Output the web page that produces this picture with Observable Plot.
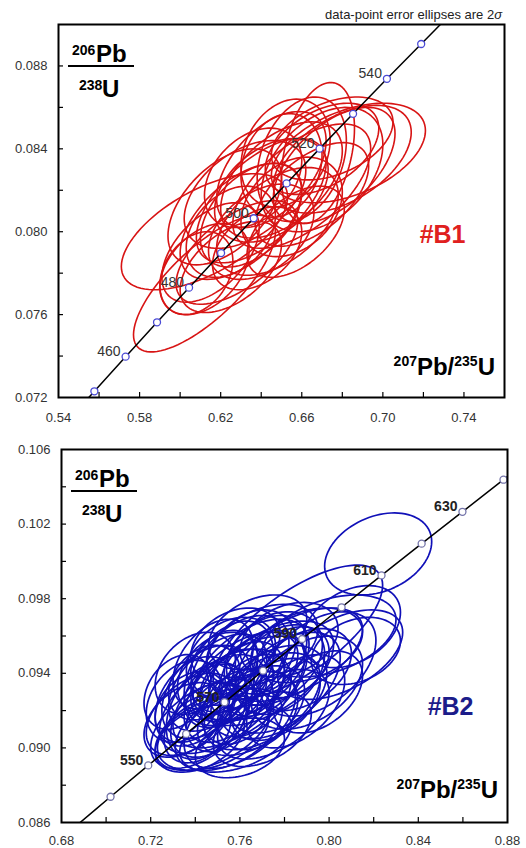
<!DOCTYPE html>
<html><head><meta charset="utf-8">
<script src="https://cdn.jsdelivr.net/npm/d3@7"></script>
<script src="https://cdn.jsdelivr.net/npm/@observablehq/plot@0.6"></script>
<style>
body{margin:0;background:#fff;font-family:"Liberation Sans",Arial,sans-serif;overflow:hidden;}
#chart svg{display:block;}
</style></head><body><div id="chart"></div>
<script>
// ---------- Panel B1 (red) ----------
const b1Ages  = [440, 450, 460, 470, 480, 490, 500, 510, 520, 530, 540, 550, 560];
const b1ConcX = [0.5424, 0.5577, 0.5731, 0.5886, 0.6044, 0.6202, 0.6363, 0.6525, 0.6688, 0.6853, 0.7020, 0.7189, 0.7359];
const b1ConcY = [0.07064, 0.07230, 0.07397, 0.07563, 0.07730, 0.07897, 0.08065, 0.08233, 0.08401, 0.08569, 0.08738, 0.08906, 0.09075];
const b1LabelAges = [460, 480, 500, 520, 540];
const b1X   = [0.668, 0.683, 0.680, 0.676, 0.670, 0.660, 0.650, 0.645, 0.640, 0.655, 0.635, 0.630, 0.625, 0.640, 0.612, 0.615, 0.612, 0.612, 0.608, 0.625, 0.648, 0.660, 0.650, 0.632, 0.622, 0.665, 0.670, 0.638, 0.645, 0.628, 0.657, 0.675, 0.652, 0.636];
const b1Y   = [0.0838, 0.0838, 0.0835, 0.0832, 0.0830, 0.0822, 0.0825, 0.0820, 0.0815, 0.0812, 0.0808, 0.0805, 0.0800, 0.0800, 0.0800, 0.0790, 0.0782, 0.0775, 0.0780, 0.0783, 0.0805, 0.0835, 0.0832, 0.0818, 0.0812, 0.0818, 0.0840, 0.0792, 0.0830, 0.0790, 0.0800, 0.0845, 0.0838, 0.0826];
const b1SX  = [0.018, 0.038, 0.034, 0.030, 0.030, 0.034, 0.030, 0.028, 0.032, 0.025, 0.025, 0.030, 0.022, 0.026, 0.041, 0.024, 0.022, 0.035, 0.018, 0.025, 0.030, 0.022, 0.020, 0.030, 0.028, 0.028, 0.028, 0.022, 0.027, 0.030, 0.024, 0.030, 0.022, 0.024];
const b1SY  = [0.0034, 0.0024, 0.0026, 0.0028, 0.0030, 0.0030, 0.0028, 0.0025, 0.0030, 0.0024, 0.0025, 0.0028, 0.0022, 0.0023, 0.0028, 0.0024, 0.0022, 0.0033, 0.0020, 0.0022, 0.0026, 0.0030, 0.0025, 0.0026, 0.0028, 0.0025, 0.0022, 0.0020, 0.0028, 0.0025, 0.0022, 0.0020, 0.0026, 0.0024];
const b1Rho = [0.35, 0.45, 0.50, 0.55, 0.40, 0.60, 0.50, 0.40, 0.60, 0.30, 0.45, 0.55, 0.35, 0.40, 0.60, 0.50, 0.40, 0.75, 0.30, 0.50, 0.50, 0.30, 0.20, 0.45, 0.50, 0.55, 0.45, 0.40, 0.50, 0.60, 0.50, 0.40, 0.25, 0.35];
const b1XTicks = [0.54, 0.58, 0.62, 0.66, 0.70, 0.74];
const b1XMinor = [0.56, 0.58, 0.60, 0.62, 0.64, 0.66, 0.68, 0.70, 0.72, 0.74];
const b1YTicks = [0.072, 0.076, 0.080, 0.084, 0.088];
const b1YMinor = [0.074, 0.076, 0.078, 0.080, 0.082, 0.084, 0.086, 0.088];

// ---------- Panel B2 (blue) ----------
const b2Ages  = [530, 540, 550, 560, 570, 580, 590, 600, 610, 620, 630, 640, 650];
const b2ConcX = [0.6853, 0.7020, 0.7189, 0.7359, 0.7531, 0.7704, 0.7879, 0.8056, 0.8235, 0.8415, 0.8598, 0.8782, 0.8968];
const b2ConcY = [0.08569, 0.08738, 0.08906, 0.09075, 0.09245, 0.09414, 0.09584, 0.09754, 0.09925, 0.10095, 0.10266, 0.10438, 0.10609];
const b2LabelAges = [550, 570, 590, 610, 630];
const b2X   = [0.822, 0.786, 0.800, 0.805, 0.795, 0.790, 0.785, 0.775, 0.770, 0.765, 0.760, 0.755, 0.750, 0.745, 0.740, 0.738, 0.742, 0.748, 0.755, 0.760, 0.765, 0.770, 0.775, 0.780, 0.785, 0.790, 0.760, 0.752, 0.735, 0.735, 0.748, 0.758, 0.770, 0.772, 0.762, 0.756, 0.748, 0.745, 0.755, 0.765, 0.778, 0.782, 0.768, 0.758, 0.740, 0.795, 0.760, 0.742, 0.775, 0.788, 0.812, 0.752, 0.765, 0.732, 0.810,
               0.744, 0.750, 0.757, 0.763, 0.770, 0.738, 0.746, 0.753, 0.768, 0.776, 0.783, 0.749, 0.759, 0.741, 0.772];
const b2Y   = [0.1004, 0.0962, 0.0960, 0.0950, 0.0945, 0.0955, 0.0950, 0.0948, 0.0955, 0.0950, 0.0945, 0.0940, 0.0935, 0.0930, 0.0925, 0.0918, 0.0912, 0.0908, 0.0910, 0.0915, 0.0920, 0.0925, 0.0930, 0.0935, 0.0925, 0.0935, 0.0930, 0.0925, 0.0925, 0.0915, 0.0910, 0.0905, 0.0910, 0.0940, 0.0938, 0.0948, 0.0945, 0.0920, 0.0928, 0.0928, 0.0942, 0.0958, 0.0962, 0.0955, 0.0940, 0.0930, 0.0900, 0.0905, 0.0918, 0.0942, 0.0952, 0.0918, 0.0942, 0.0930, 0.0965,
               0.0935, 0.0940, 0.0932, 0.0936, 0.0940, 0.0922, 0.0915, 0.0945, 0.0920, 0.0926, 0.0946, 0.0928, 0.0922, 0.0910, 0.0950];
const b2SX  = [0.024, 0.038, 0.030, 0.028, 0.026, 0.025, 0.030, 0.022, 0.025, 0.020, 0.022, 0.020, 0.022, 0.020, 0.018, 0.020, 0.022, 0.025, 0.024, 0.025, 0.024, 0.026, 0.024, 0.025, 0.022, 0.025, 0.030, 0.028, 0.017, 0.018, 0.026, 0.025, 0.022, 0.030, 0.024, 0.020, 0.018, 0.018, 0.020, 0.018, 0.020, 0.022, 0.022, 0.020, 0.018, 0.020, 0.020, 0.020, 0.025, 0.022, 0.020, 0.016, 0.026, 0.015, 0.022,
               0.016, 0.018, 0.015, 0.017, 0.019, 0.016, 0.017, 0.015, 0.018, 0.020, 0.017, 0.014, 0.016, 0.015, 0.018];
const b2SY  = [0.0022, 0.0036, 0.0022, 0.0024, 0.0028, 0.0020, 0.0025, 0.0025, 0.0022, 0.0024, 0.0026, 0.0028, 0.0026, 0.0025, 0.0024, 0.0022, 0.0023, 0.0020, 0.0022, 0.0026, 0.0024, 0.0026, 0.0025, 0.0027, 0.0025, 0.0025, 0.0030, 0.0028, 0.0022, 0.0020, 0.0022, 0.0018, 0.0020, 0.0028, 0.0024, 0.0022, 0.0024, 0.0026, 0.0025, 0.0022, 0.0024, 0.0020, 0.0020, 0.0020, 0.0022, 0.0022, 0.0016, 0.0018, 0.0024, 0.0022, 0.0018, 0.0020, 0.0027, 0.0020, 0.0022,
               0.0020, 0.0022, 0.0018, 0.0021, 0.0023, 0.0019, 0.0020, 0.0018, 0.0021, 0.0022, 0.0019, 0.0017, 0.0020, 0.0018, 0.0021];
const b2Rho = [0.30, 0.70, 0.40, 0.50, 0.45, 0.35, 0.55, 0.30, 0.40, 0.30, 0.45, 0.40, 0.50, 0.40, 0.35, 0.45, 0.50, 0.40, 0.45, 0.50, 0.45, 0.50, 0.40, 0.50, 0.45, 0.40, 0.60, 0.55, 0.30, 0.40, 0.50, 0.40, 0.40, 0.55, 0.50, 0.30, 0.40, 0.35, 0.45, 0.40, 0.35, 0.30, 0.35, 0.30, 0.30, 0.40, 0.30, 0.40, 0.50, 0.40, 0.30, 0.35, 0.50, 0.30, 0.35,
               0.30, 0.35, 0.25, 0.30, 0.35, 0.30, 0.35, 0.25, 0.30, 0.40, 0.30, 0.25, 0.30, 0.30, 0.35];
const b2XTicks = [0.68, 0.72, 0.76, 0.80, 0.84, 0.88];
const b2XMinor = [0.70, 0.72, 0.74, 0.76, 0.78, 0.80, 0.82, 0.84, 0.86];
const b2YTicks = [0.086, 0.090, 0.094, 0.098, 0.102, 0.106];
const b2YMinor = [0.088, 0.090, 0.092, 0.094, 0.096, 0.098, 0.100, 0.102, 0.104];

const FONT = "Liberation Sans, Arial, Helvetica, sans-serif";

function ellipsePoints(X, Y, SX, SY, R) {
  const pts = [];
  X.forEach((cx, i) => {
    const k = Math.sqrt(1 - R[i] * R[i]);
    for (let j = 0; j < 90; j++) {
      const t = j / 90 * 2 * Math.PI;
      pts.push({id: i, x: cx + SX[i] * Math.cos(t), y: Y[i] + SY[i] * (R[i] * Math.cos(t) + k * Math.sin(t))});
    }
  });
  return pts;
}

function ratioLabels(bottomOffset, caption) {
  return (index, scales, values, dim) => {
    const {marginLeft: ml, marginTop: mt, marginRight: mr, marginBottom: mb, width, height} = dim;
    const g = d3.create("svg:g").attr("font-family", FONT).attr("font-weight", "bold").attr("fill", "#000")
      .attr("text-anchor", "start");
    g.append("text").attr("x", ml + 14).attr("y", mt + 31).attr("font-size", 14).text("206");
    g.append("text").attr("x", ml + 38).attr("y", mt + 38).attr("font-size", 24).text("Pb");
    g.append("line").attr("x1", ml + 10).attr("x2", ml + 76).attr("y1", mt + 42).attr("y2", mt + 42)
      .attr("stroke", "#000").attr("stroke-width", 2);
    g.append("text").attr("x", ml + 21).attr("y", mt + 66).attr("font-size", 14).text("238");
    g.append("text").attr("x", ml + 44).attr("y", mt + 73).attr("font-size", 24).text("U");
    const t = g.append("text").attr("x", width - mr - 9).attr("y", height - mb - bottomOffset)
      .attr("text-anchor", "end").attr("font-size", 24);
    t.append("tspan").attr("font-size", 14).attr("dy", -9).text("207");
    t.append("tspan").attr("dy", 9).text("Pb/");
    t.append("tspan").attr("font-size", 14).attr("dy", -9).text("235");
    t.append("tspan").attr("dy", 9).text("U");
    if (caption) {
      const c = g.append("text").attr("x", width - mr - 2).attr("y", mt - 5).attr("text-anchor", "end")
        .attr("font-size", 13).attr("font-weight", "normal").attr("fill", "#222");
      c.append("tspan").text("data-point error ellipses are 2");
      c.append("tspan").attr("font-style", "italic").text("σ");
    }
    return g.node();
  };
}

function panel(o) {
  const fw = o.width - o.ml - o.mr, fh = o.height - o.mt - o.mb;
  const conc = o.ages.map((a, i) => ({age: a, x: o.concX[i], y: o.concY[i]}));
  const labels = conc.filter(d => o.labelAges.includes(d.age));
  const ell = ellipsePoints(o.X, o.Y, o.SX, o.SY, o.R);
  return Plot.plot({
    width: o.width, height: o.height,
    marginTop: o.mt, marginBottom: o.mb, marginLeft: o.ml, marginRight: o.mr,
    style: {fontFamily: FONT, fontSize: "13px", color: "#333", background: "white", overflow: "visible"},
    x: {domain: o.xDomain},
    y: {domain: o.yDomain},
    marks: [
      Plot.line(ell, {x: "x", y: "y", z: "id", curve: "linear-closed", stroke: o.color, strokeWidth: o.sw, clip: true}),
      Plot.line(conc, {x: "x", y: "y", stroke: "#000", strokeWidth: 1.5, curve: "catmull-rom", clip: true}),
      Plot.dot(conc, {x: "x", y: "y", r: 3.5, stroke: o.markerColor, strokeWidth: 1.3, fill: "white", clip: true}),
      Plot.text(labels, {x: "x", y: "y", text: d => String(d.age), dx: -5, dy: -5, textAnchor: "end",
        fontSize: 14, fontWeight: o.labelWeight, fill: o.labelColor}),
      Plot.tickX(o.xMinor, {x: d => d, insetTop: fh - 5, stroke: "#000", strokeWidth: 1.2}),
      Plot.tickY(o.yMinor, {y: d => d, insetRight: fw - 5, stroke: "#000", strokeWidth: 1.2}),
      Plot.axisX(o.xTicks, {tickSize: 0, tickPadding: o.xPad, tickFormat: d => d.toFixed(2), label: null, fill: "#333"}),
      Plot.axisY(o.yTicks, {tickSize: 0, tickPadding: 11, tickFormat: d => d.toFixed(3), label: null, fill: "#333"}),
      Plot.text([o.tag], {frameAnchor: "right", dx: o.tagDx, dy: o.tagDy, textAnchor: "end",
        fontSize: 25, fontWeight: "bold", fill: o.tagColor}),
      Plot.frame({stroke: "#000", strokeWidth: 2}),
      ratioLabels(o.ratioBottom, o.caption)
    ]
  });
}

const panelTop = panel({
  width: 526, height: 428, mt: 24, mb: 31, ml: 58, mr: 22, xPad: 15,
  xDomain: [0.54, 0.76], yDomain: [0.072, 0.090],
  ages: b1Ages, concX: b1ConcX, concY: b1ConcY, labelAges: b1LabelAges,
  X: b1X, Y: b1Y, SX: b1SX, SY: b1SY, R: b1Rho, sw: 1.6,
  xTicks: b1XTicks, xMinor: b1XMinor, yTicks: b1YTicks, yMinor: b1YMinor,
  color: "#d81414", markerColor: "#4a4ad6", labelColor: "#333", labelWeight: "normal",
  tag: "#B1", tagColor: "#e02020", tagDx: -39, tagDy: 24, ratioBottom: 22, caption: true
});
const panelBottom = panel({
  width: 526, height: 420, mt: 21, mb: 26, ml: 61, mr: 19, xPad: 13,
  xDomain: [0.68, 0.88], yDomain: [0.086, 0.106],
  ages: b2Ages, concX: b2ConcX, concY: b2ConcY, labelAges: b2LabelAges,
  X: b2X, Y: b2Y, SX: b2SX, SY: b2SY, R: b2Rho, sw: 1.7,
  xTicks: b2XTicks, xMinor: b2XMinor, yTicks: b2YTicks, yMinor: b2YMinor,
  color: "#1010b8", markerColor: "#7474aa", labelColor: "#222", labelWeight: "bold",
  tag: "#B2", tagColor: "#1c1c8a", tagDx: -34, tagDy: 71, ratioBottom: 24, caption: false
});
document.getElementById("chart").append(panelTop, panelBottom);
</script></body></html>
